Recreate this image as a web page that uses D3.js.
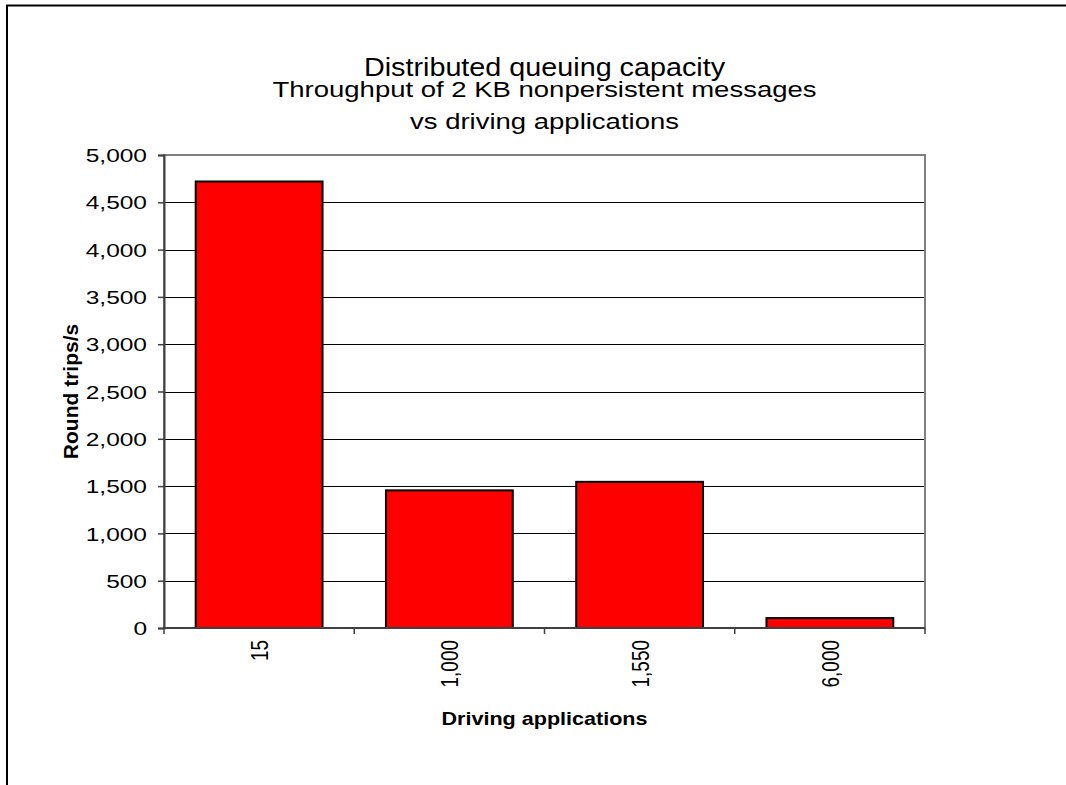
<!DOCTYPE html>
<html>
<head>
<meta charset="utf-8">
<script src="https://cdn.jsdelivr.net/npm/d3@7"></script>
<style>
  body { margin: 0; background: #fff; }
  svg { display: block; font-family: "Liberation Sans", Arial, sans-serif; }
</style>
</head>
<body>
<div id="wrapper"></div>
<script>
// data
const categories = ["15", "1,000", "1,550", "6,000"]
const roundTrips = [4720, 1455, 1545, 105]
const yTicks = [0, 500, 1000, 1500, 2000, 2500, 3000, 3500, 4000, 4500, 5000]
const titleLines = ["Distributed queuing capacity", "Throughput of 2 KB nonpersistent messages", "vs driving applications"]

// the source chart was stretched sideways, so text gets a horizontal scale
const textStretch = 1.29

function drawChart() {
    const width = 1066
    const height = 785
    let dimensions = {
        width: width,
        height: height,
        margin: { top: 155, right: 141, bottom: 157, left: 164 },
    }
    dimensions.boundedWidth = dimensions.width - dimensions.margin.left - dimensions.margin.right
    dimensions.boundedHeight = dimensions.height - dimensions.margin.top - dimensions.margin.bottom

    const wrapper = d3.select("#wrapper")
        .html("")
        .append("svg")
        .attr("width", dimensions.width)
        .attr("height", dimensions.height)

    // outer chart frame (runs off the right and bottom edge)
    wrapper.append("rect")
        .attr("x", 7).attr("y", 5.5)
        .attr("width", 1100).attr("height", 900)
        .attr("fill", "none")
        .attr("stroke", "#000")
        .attr("stroke-width", 2)

    const bounds = wrapper.append("g")
        .attr("transform", `translate(${dimensions.margin.left},${dimensions.margin.top})`)

    const xScaler = d3.scaleBand()
        .domain(categories)
        .range([0, dimensions.boundedWidth])
        .paddingInner(1 / 3)
        .paddingOuter(1 / 6)

    const yScaler = d3.scaleLinear()
        .domain([0, 5000])
        .range([dimensions.boundedHeight, 0])

    // gridlines
    bounds.append("g")
        .selectAll("line")
        .data(yTicks.filter(d => d > 0 && d < 5000))
        .join("line")
        .attr("x1", 0)
        .attr("x2", dimensions.boundedWidth)
        .attr("y1", d => Math.round(yScaler(d)) + 0.5)
        .attr("y2", d => Math.round(yScaler(d)) + 0.5)
        .attr("stroke", "#000")
        .attr("stroke-width", 1)

    // plot area border
    bounds.append("rect")
        .attr("x", 0).attr("y", 0)
        .attr("width", dimensions.boundedWidth)
        .attr("height", dimensions.boundedHeight)
        .attr("fill", "none")
        .attr("stroke", "#808080")
        .attr("stroke-width", 2)

    // bars
    bounds.append("g")
        .selectAll("rect")
        .data(roundTrips)
        .join("rect")
        .attr("x", (d, i) => xScaler(categories[i]))
        .attr("y", d => yScaler(d))
        .attr("width", xScaler.bandwidth())
        .attr("height", d => dimensions.boundedHeight - yScaler(d))
        .attr("fill", "#ff0000")
        .attr("stroke", "#000")
        .attr("stroke-width", 2)

    // y axis
    const yAxisGen = d3.axisLeft(yScaler)
        .tickValues(yTicks)
        .tickFormat(d3.format(","))
        .tickSize(6)
    const yAxis = bounds.append("g").call(yAxisGen)
    yAxis.select(".domain").attr("stroke", "#404040").attr("stroke-width", 2)
    yAxis.selectAll(".tick line").attr("stroke", "#404040").attr("stroke-width", 1.5)
    yAxis.selectAll(".tick text")
        .attr("x", null)
        .attr("dy", "0.35em")
        .attr("transform", `translate(-17,0) scale(${textStretch},1)`)
        .attr("font-size", "19px")
        .attr("fill", "#000")
        .attr("font-family", "Liberation Sans, Arial, sans-serif")

    // x axis: ticks on category boundaries
    const step = xScaler.step()
    const xAxis = bounds.append("g")
        .attr("transform", `translate(0,${dimensions.boundedHeight})`)
    xAxis.append("line")
        .attr("x1", 0).attr("x2", dimensions.boundedWidth)
        .attr("stroke", "#404040").attr("stroke-width", 2)
    xAxis.selectAll(".xtick")
        .data(d3.range(categories.length + 1))
        .join("line")
        .attr("class", "xtick")
        .attr("x1", i => i * step).attr("x2", i => i * step)
        .attr("y1", 0).attr("y2", 6)
        .attr("stroke", "#404040").attr("stroke-width", 1.5)
    xAxis.selectAll("text")
        .data(categories)
        .join("text")
        .attr("transform", d => `translate(${xScaler(d) + xScaler.bandwidth() / 2 + 9},12) scale(${textStretch},1) rotate(-90)`)
        .attr("text-anchor", "end")
        .attr("font-size", "19px")
        .text(d => d)

    // axis titles
    wrapper.append("text")
        .attr("transform", `translate(${dimensions.margin.left + dimensions.boundedWidth / 2},725) scale(1.16,1)`)
        .attr("text-anchor", "middle")
        .attr("font-size", "18.6px")
        .attr("font-weight", "bold")
        .text("Driving applications")

    wrapper.append("text")
        .attr("transform", `translate(78,${dimensions.margin.top + dimensions.boundedHeight / 2}) rotate(-90)`)
        .attr("text-anchor", "middle")
        .attr("font-size", "21px")
        .attr("font-weight", "bold")
        .text("Round trips/s")

    // title block
    const titleX = dimensions.margin.left + dimensions.boundedWidth / 2
    wrapper.append("text")
        .attr("transform", `translate(${titleX},76) scale(1.15,1)`)
        .attr("text-anchor", "middle")
        .attr("font-size", "25px")
        .text(titleLines[0])
    wrapper.append("text")
        .attr("transform", `translate(${titleX},97) scale(1.25,1)`)
        .attr("text-anchor", "middle")
        .attr("font-size", "22px")
        .text(titleLines[1])
    wrapper.append("text")
        .attr("transform", `translate(${titleX},129) scale(1.25,1)`)
        .attr("text-anchor", "middle")
        .attr("font-size", "22px")
        .text(titleLines[2])
}

drawChart()
</script>
</body>
</html>
